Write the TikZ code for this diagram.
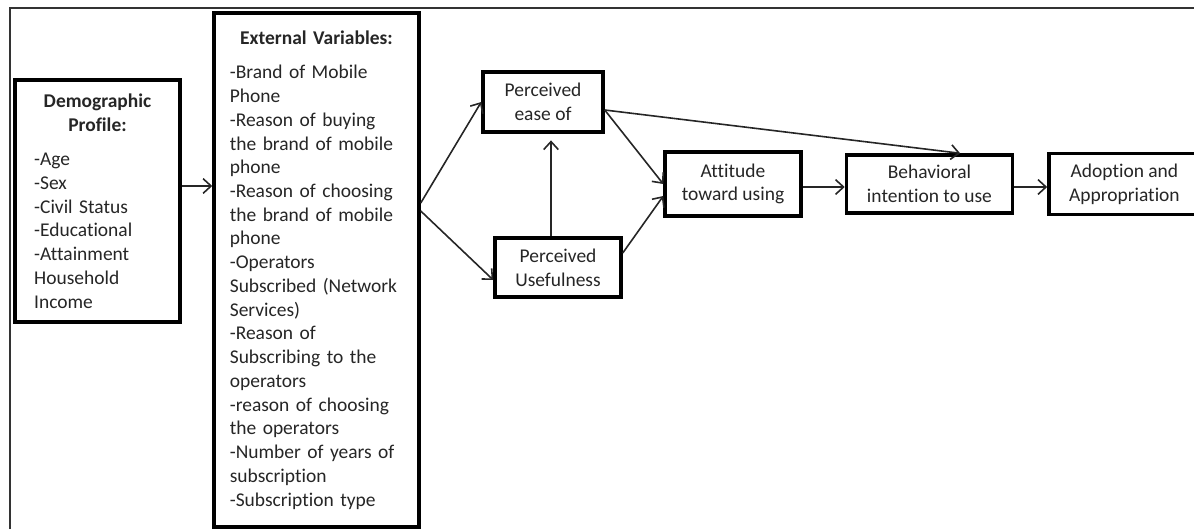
\documentclass[tikz,border=0pt]{standalone}
\usepackage{fontspec}
\setmainfont{Carlito}[Ligatures=NoCommon]
\usetikzlibrary{arrows.meta,positioning}

\begin{document}
\begin{tikzpicture}[x=0.75pt,y=-0.75pt,font=\fontsize{14.6}{17.8}\selectfont,>={Straight Barb[length=6pt,width=11pt]}]
  \tikzset{flowbox/.style={draw=black,line width=2.6pt,inner sep=0pt,align=center,fill=white,text=black!85},
    listbox/.style={flowbox,align=left},
    flowarrow/.style={black!85,line width=1.2pt,->}}
  \useasboundingbox (0,0) rectangle (1194,529);
  \draw[black!80,line width=1.6pt] (10,529) -- (10,8) -- (1194,8);
  % left-hand lists
  \node[listbox,minimum width=123.75pt,minimum height=181.5pt,text width=95pt] (demo) at (97.5,201)
    {{\centering\bfseries Demographic\\Profile:\par}\vspace{8pt}
     -Age\\-Sex\\-Civil Status\\-Educational\\-Attainment\\Household\\Income};
  \node[listbox,minimum width=153.75pt,minimum height=385.5pt,text width=130pt] (ext) at (316.5,270)
    {{\centering\bfseries External Variables:\par}\vspace{8pt}
     -Brand of Mobile\\Phone\\-Reason of buying\\the brand of mobile\\phone\\-Reason of choosing\\the brand of mobile\\phone\\-Operators\\Subscribed (Network\\Services)\\-Reason of\\Subscribing to the\\operators\\-reason of choosing\\the operators\\-Number of years of\\subscription\\-Subscription type};
  % TAM boxes
  \node[flowbox,minimum width=90pt,minimum height=45pt] (ease) at (543,102) {Perceived\\ease of};
  \node[flowbox,minimum width=94.5pt,minimum height=44.25pt] (use) at (558,267.5) {Perceived\\Usefulness};
  \node[flowbox,minimum width=102pt,minimum height=48pt] (att) at (733,184) {Attitude\\toward using};
  \node[flowbox,minimum width=124.5pt,minimum height=43.5pt,right=31.5pt of att] (beh) {Behavioral\\intention to use};
  \node[flowbox,minimum width=113.25pt,minimum height=45.75pt,right=24.75pt of beh] (adopt) {Adoption and\\Appropriation};
  \draw[flowarrow] (demo.east|-0,186) -- (ext.west|-0,186);
  \draw[flowarrow] (ext.east|-0,203) -- (ease.west|-0,102);
  \draw[flowarrow] (ext.east|-0,211) -- (use.west|-0,280);
  \draw[flowarrow,shorten >=5pt] (use.north-|551,0) -- (ease.south-|551,0);
  \draw[flowarrow] (ease.east|-0,110) -- (att.west|-0,184);
  \draw[flowarrow] (use.east|-0,253) -- (att.west|-0,196);
  \draw[flowarrow] (ease.east|-0,110) -- ([xshift=23pt]beh.north);
  \draw[flowarrow] (att.east|-0,187) -- (beh.west|-0,187);
  \draw[flowarrow] (beh.east|-0,187) -- (adopt.west|-0,187);
\end{tikzpicture}
\end{document}
